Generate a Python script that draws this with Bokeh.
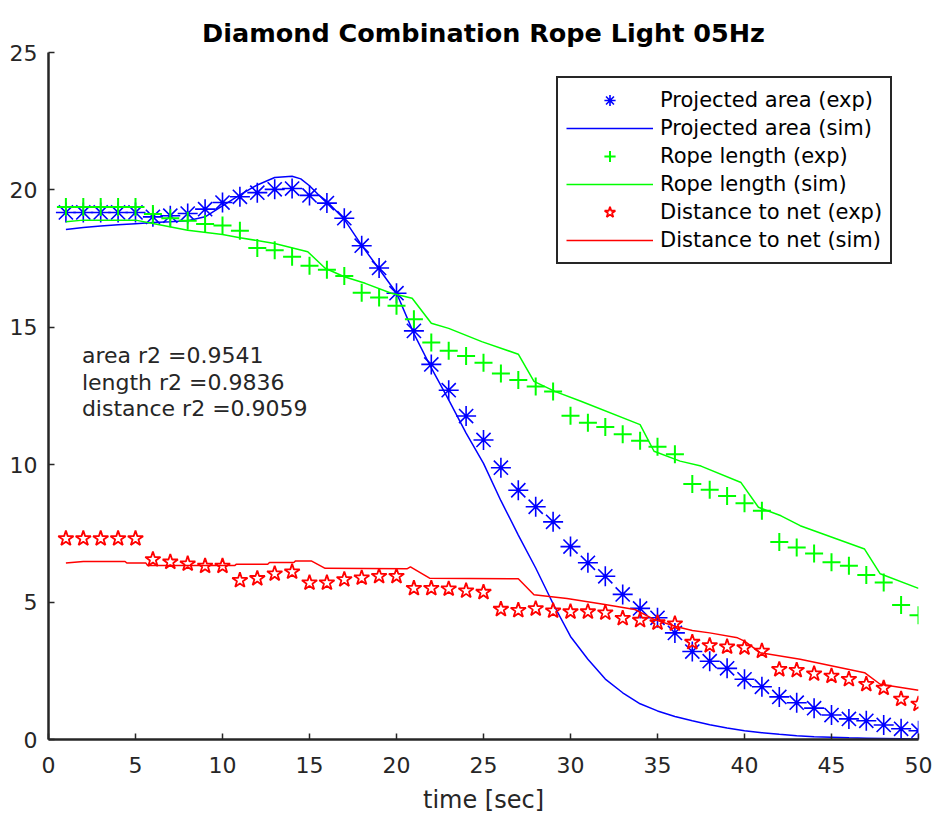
from bokeh.plotting import figure
from bokeh.models import Range1d, Legend, LegendItem, Label, FixedTicker
from bokeh.embed import file_html
from bokeh.resources import INLINE

# ---------------- data ----------------
t_exp = list(range(1, 51))

area_exp = [19.18, 19.18, 19.18, 19.18, 19.18, 19.02, 19.06, 19.14, 19.3, 19.54,
            19.75, 19.9, 20.02, 20.05, 19.8, 19.52, 18.97, 17.97, 17.16, 16.24,
            14.87, 13.65, 12.71, 11.77, 10.9, 9.89, 9.07, 8.47, 7.92, 7.02,
            6.43, 5.94, 5.28, 4.77, 4.43, 3.88, 3.2, 2.85, 2.59, 2.19,
            1.92, 1.55, 1.34, 1.14, 0.89, 0.75, 0.68, 0.53, 0.39, 0.32]

rope_exp = [19.38, 19.38, 19.38, 19.38, 19.38, 19.12, 18.97, 18.88, 18.76, 18.7,
            18.51, 17.89, 17.8, 17.57, 17.24, 17.09, 16.87, 16.26, 16.08, 15.78,
            15.29, 14.45, 14.15, 13.96, 13.71, 13.32, 13.08, 12.85, 12.66, 11.78,
            11.53, 11.37, 11.11, 10.87, 10.65, 10.38, 9.3, 9.09, 8.86, 8.6,
            8.32, 7.19, 6.99, 6.77, 6.45, 6.32, 5.99, 5.71, 4.89, 4.52]

dist_exp = [7.31, 7.31, 7.31, 7.31, 7.31, 6.55, 6.46, 6.39, 6.31, 6.31,
            5.79, 5.86, 6.03, 6.1, 5.7, 5.7, 5.82, 5.88, 5.94, 5.94,
            5.5, 5.5, 5.48, 5.41, 5.36, 4.74, 4.7, 4.76, 4.68, 4.65,
            4.65, 4.61, 4.41, 4.34, 4.25, 4.21, 3.54, 3.42, 3.37, 3.34,
            3.22, 2.55, 2.52, 2.39, 2.31, 2.19, 2.01, 1.87, 1.47, 1.29]

area_sim_t = [1, 2, 3, 4, 5, 6, 7, 8, 9, 10, 11, 12, 13, 14, 14.5, 15, 15.5,
              16, 17, 18, 19, 20, 21, 22, 23, 24, 25, 26, 27, 28, 29, 30,
              31, 32, 33, 34, 35, 36, 37, 38, 39, 40, 41, 42, 43, 44, 45, 46,
              47, 48, 49, 50]
area_sim = [18.56, 18.63, 18.69, 18.73, 18.77, 18.81, 18.84, 18.88, 19.02, 19.42,
            19.82, 20.18, 20.45, 20.5, 20.4, 20.15, 19.83,
            19.58, 18.93, 17.98, 17.12, 16.25, 14.77, 13.52, 12.36, 11.15, 10.05, 8.69,
            7.44, 6.24, 4.94, 3.75,
            2.92, 2.2, 1.7, 1.3, 1.04, 0.84, 0.68, 0.54, 0.42, 0.32,
            0.25, 0.19, 0.14, 0.1, 0.08, 0.06, 0.05, 0.04, 0.03, 0.02]

rope_sim_t = [1, 2, 5, 6, 8, 10, 11, 13, 14.9, 15.9,
              17, 18.2, 19.7, 20.9, 22, 23, 24.9, 27, 27.9, 29.1,
              30.6, 34, 34.8, 36.3, 37.5, 39.8, 40.8, 42.1, 43.2, 46.9,
              47.8, 50]
rope_sim = [18.84, 18.9, 18.9, 18.78, 18.53, 18.38, 18.26, 18.05, 17.75, 17.15,
            16.84, 16.6, 16.24, 16.06, 15.15, 14.96, 14.48, 14.02, 13.03, 12.67,
            12.31, 11.46, 10.49, 10.13, 9.95, 9.35, 8.45, 8.14, 7.78, 6.93,
            6.03, 5.5]

dist_sim_t = [1, 2, 4.4, 4.5, 5.6, 5.7, 10.7, 10.8, 12.6, 12.7,
              14.1, 14.2, 15.1, 15.9, 20.6, 20.8, 21.9, 27.0, 27.9, 29.8,
              31.8, 33.7, 34.8, 36.0, 37.0, 38.0, 39.6, 40.0, 40.9, 43.2,
              46.9, 47.8, 50]
dist_sim = [6.42, 6.48, 6.48, 6.42, 6.42, 6.33, 6.33, 6.38, 6.38, 6.44,
            6.44, 6.5, 6.5, 6.23, 6.21, 6.28, 5.87, 5.85, 5.27, 5.13,
            4.93, 4.73, 4.37, 4.12, 3.97, 3.88, 3.7, 3.58, 3.16, 2.92,
            2.43, 2.01, 1.79]

title_text = "Diamond Combination Rope Light 05Hz"
legend_labels = ["Projected area (exp)", "Projected area (sim)",
                 "Rope length (exp)", "Rope length (sim)",
                 "Distance to net (exp)", "Distance to net (sim)"]
r2_lines = ["area r2 =0.9541", "length r2 =0.9836", "distance r2 =0.9059"]
x_ticks = [0, 5, 10, 15, 20, 25, 30, 35, 40, 45, 50]
y_ticks = [0, 5, 10, 15, 20, 25]

FONT = "DejaVu Sans"
DARK = "#262626"
BLUE, GREEN, RED = "#0000FF", "#00FF00", "#FF0000"

p = figure(frame_width=870, frame_height=687,
           x_range=Range1d(0, 50), y_range=Range1d(0, 25),
           output_backend="svg", toolbar_location=None,
           min_border_left=48, min_border_right=16, min_border_top=52,
           min_border_bottom=70)

p.title.text = title_text
p.title.align = "center"
p.title.text_font = FONT
p.title.text_font_size = "25.5px"
p.title.text_font_style = "bold"
p.title.text_color = "#000000"

r1 = p.scatter(t_exp, area_exp, marker="asterisk", size=20, line_color=BLUE, line_width=1.6)
r2 = p.line(area_sim_t, area_sim, line_color=BLUE, line_width=1.5)
r3 = p.scatter(t_exp, rope_exp, marker="cross", size=18, line_color=GREEN, line_width=2)
r4 = p.line(rope_sim_t, rope_sim, line_color=GREEN, line_width=1.5)
r5 = p.scatter(t_exp, dist_exp, marker="star", size=16, line_color=RED, fill_color=None,
               line_width=1.8)
r6 = p.line(dist_sim_t, dist_sim, line_color=RED, line_width=1.5)

legend = Legend(items=[LegendItem(label=lab, renderers=[r]) for lab, r in
                       zip(legend_labels, [r1, r2, r3, r4, r5, r6])],
                location=(508, 475))
legend.label_text_font = FONT
legend.label_text_font_size = "21px"
legend.label_text_color = "#000000"
legend.glyph_width = 87
legend.glyph_height = 28
legend.label_height = 28
legend.label_standoff = 7
legend.spacing = 0
legend.padding = 8
legend.margin = 0
legend.border_line_color = DARK
legend.border_line_alpha = 1.0
legend.border_line_width = 2.5
legend.background_fill_color = "white"
legend.background_fill_alpha = 1.0
p.add_layout(legend)

for i, txt in enumerate(r2_lines):
    p.add_layout(Label(x=1.92, y=13.96 - 0.965 * i, text=txt, text_font=FONT,
                       text_font_size="22px", text_color=DARK,
                       text_baseline="middle", text_align="left"))

p.xaxis.ticker = FixedTicker(ticks=x_ticks)
p.yaxis.ticker = FixedTicker(ticks=y_ticks)
for ax in (p.xaxis, p.yaxis):
    ax.axis_line_color = DARK
    ax.axis_line_width = 2.5
    ax.major_tick_in = 6
    ax.major_tick_out = 0
    ax.minor_tick_in = 0
    ax.minor_tick_out = 0
    ax.major_tick_line_color = DARK
    ax.major_tick_line_width = 1.5
    ax.major_label_text_font = FONT
    ax.major_label_text_font_size = "22px"
    ax.major_label_text_color = DARK
p.yaxis.major_label_standoff = 11
p.xaxis.major_label_standoff = 17

p.xaxis.axis_label = "time [sec]"
p.xaxis.axis_label_text_font = FONT
p.xaxis.axis_label_text_font_size = "24px"
p.xaxis.axis_label_text_font_style = "normal"
p.xaxis.axis_label_text_color = DARK
p.xaxis.axis_label_standoff = 10

p.grid.visible = False
p.outline_line_color = None
p.background_fill_color = "white"
p.border_fill_color = "white"

open("out.html", "w").write(file_html(p, INLINE))
